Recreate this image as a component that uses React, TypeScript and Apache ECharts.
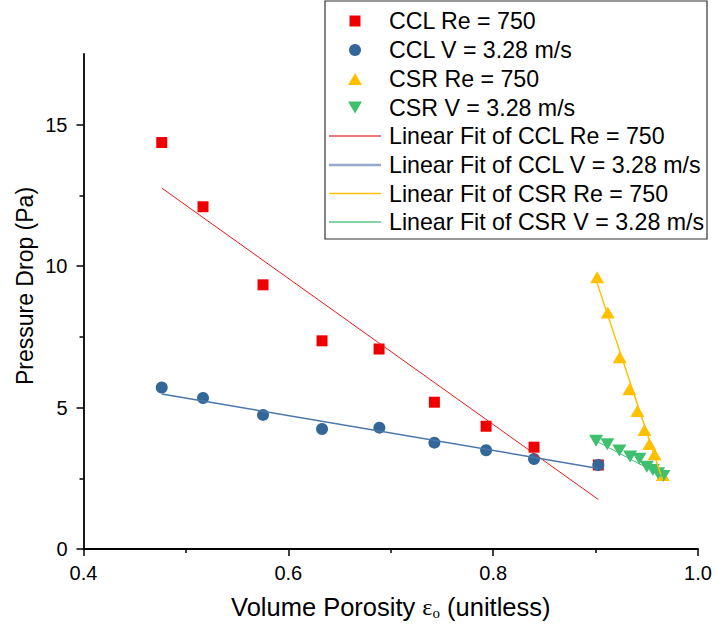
import React, { useEffect, useRef } from "react";
import * as echarts from "echarts";

// CCL Re = 750 (red squares)
const cclReX = [0.4764, 0.5167, 0.5753, 0.6329, 0.6886, 0.7426, 0.7931, 0.8399, 0.9027];
const cclReY = [14.37, 12.10, 9.34, 7.36, 7.07, 5.19, 4.34, 3.60, 2.97];
// CCL V = 3.28 m/s (blue circles)
const cclVX = [0.4764, 0.5167, 0.5753, 0.6329, 0.6889, 0.7426, 0.7931, 0.8399, 0.9027];
const cclVY = [5.71, 5.34, 4.74, 4.24, 4.29, 3.76, 3.49, 3.18, 2.97];
// CSR Re = 750 (yellow triangles)
const csrReX = [0.9015, 0.9119, 0.9236, 0.9330, 0.9408, 0.9477, 0.9525, 0.9576, 0.9656];
const csrReY = [9.61, 8.36, 6.78, 5.65, 4.88, 4.21, 3.71, 3.35, 2.62];
// CSR V = 3.28 m/s (green inverted triangles)
const csrVX = [0.9005, 0.9115, 0.9232, 0.9337, 0.9428, 0.9500, 0.9559, 0.9610, 0.9662];
const csrVY = [3.83, 3.70, 3.48, 3.27, 3.19, 2.91, 2.79, 2.68, 2.58];

// Linear fit end points
const fitCclReX = [0.4764, 0.9027];
const fitCclReY = [12.76, 1.75];
const fitCclVX = [0.4764, 0.9027];
const fitCclVY = [5.48, 2.85];
const fitCsrReX = [0.9015, 0.9656];
const fitCsrReY = [9.40, 2.42];
const fitCsrVX = [0.9005, 0.9662];
const fitCsrVY = [3.82, 2.56];

const legendNames = [
  "CCL Re = 750",
  "CCL V = 3.28 m/s",
  "CSR Re = 750",
  "CSR V = 3.28 m/s",
  "Linear Fit of CCL Re = 750",
  "Linear Fit of CCL V = 3.28 m/s",
  "Linear Fit of CSR Re = 750",
  "Linear Fit of CSR V = 3.28 m/s",
];

const zip = (xs: number[], ys: number[]) => xs.map((x, i) => [x, ys[i]]);

const FONT = "Arial, 'Liberation Sans', sans-serif";
const SERIF = "'Times New Roman', 'Liberation Serif', serif";
const RED = "#EE0000";
const BLUE = "#336699";
const YELLOW = "#FFC000";
const GREEN = "#3EC06E";
const INV_TRI = "path://M0,0 L14,0 L7,12 Z";

// plot geometry
const G_LEFT = 83.5;
const G_RIGHT = 18;
const G_TOP = 54;
const G_BOTTOM = 85;
const Y_MAX = 17.5;
const PX_PER_Y = (634 - G_TOP - G_BOTTOM) / Y_MAX;
const ZERO_Y = 634 - G_BOTTOM;

function buildLegend() {
  const left = 325;
  const top = 1;
  const rowY = [21, 50, 79, 107.5, 136, 165, 193.5, 222];
  const mx = 355;
  const children: any[] = [
    {
      type: "rect",
      shape: { x: left, y: top, width: 382, height: 238 },
      style: { fill: "#fff", stroke: "#333", lineWidth: 1.2 },
    },
  ];
  const lineStyles = [
    { stroke: "#E84848", lineWidth: 1.5 },
    { stroke: "#93AACB", lineWidth: 2.5 },
    { stroke: "#FFC000", lineWidth: 1.6 },
    { stroke: "#5CC585", lineWidth: 1.4 },
  ];
  legendNames.forEach((name, i) => {
    const y = rowY[i];
    if (i === 0) {
      children.push({ type: "rect", shape: { x: mx - 5.5, y: y - 5.5, width: 11, height: 11 }, style: { fill: RED } });
    } else if (i === 1) {
      children.push({ type: "circle", shape: { cx: mx, cy: y, r: 6 }, style: { fill: BLUE } });
    } else if (i === 2) {
      children.push({ type: "polygon", shape: { points: [[mx - 7, y + 6], [mx + 7, y + 6], [mx, y - 6]] }, style: { fill: YELLOW } });
    } else if (i === 3) {
      children.push({ type: "polygon", shape: { points: [[mx - 7, y - 6], [mx + 7, y - 6], [mx, y + 6]] }, style: { fill: GREEN } });
    } else {
      children.push({ type: "line", shape: { x1: 329, y1: y, x2: 381, y2: y }, style: lineStyles[i - 4] });
    }
    children.push({
      type: "text",
      x: 389,
      y: y,
      style: { text: name, fontSize: 23.2, fontFamily: FONT, fill: "#000", align: "left", verticalAlign: "middle" },
    });
  });
  return { type: "group", z: 100, children };
}

export default function App() {
  const ref = useRef<HTMLDivElement>(null);
  useEffect(() => {
    if (!ref.current) return;
    const chart = echarts.init(ref.current, null, { renderer: "svg" });
    const axisLineStyle = { color: "#000", width: 1.8 };
    const tickStyle = { color: "#000", width: 1.5 };
    chart.setOption({
      animation: false,
      backgroundColor: "#fff",
      textStyle: { fontFamily: FONT },
      grid: [
        // main plot
        { left: G_LEFT, right: G_RIGHT, top: G_TOP, bottom: G_BOTTOM, containLabel: false },
        // major y ticks 0..15
        { left: G_LEFT, right: G_RIGHT, top: ZERO_Y - 15 * PX_PER_Y, bottom: G_BOTTOM, containLabel: false },
        // minor y ticks 2.5..12.5
        { left: G_LEFT, right: G_RIGHT, top: ZERO_Y - 12.5 * PX_PER_Y, bottom: 634 - (ZERO_Y - 2.5 * PX_PER_Y), containLabel: false },
      ],
      xAxis: [
        {
          type: "value",
          gridIndex: 0,
          min: 0.4,
          max: 1.0,
          interval: 0.2,
          name: "Volume Porosity {e|ε}{s|o} (unitless)",
          nameLocation: "middle",
          nameGap: 45,
          nameTextStyle: {
            fontSize: 25.5,
            color: "#000",
            fontFamily: FONT,
            rich: {
              e: { fontSize: 24, fontFamily: SERIF, color: "#000" },
              s: { fontSize: 15, fontFamily: SERIF, color: "#000", verticalAlign: "bottom", lineHeight: 15 },
            },
          },
          axisLine: { show: true, onZero: false, lineStyle: axisLineStyle },
          axisTick: { show: true, length: 7, lineStyle: tickStyle },
          minorTick: { show: true, splitNumber: 2, length: 4, lineStyle: tickStyle },
          axisLabel: { fontSize: 20, color: "#000", margin: 14, formatter: (v: number) => v.toFixed(1) },
          splitLine: { show: false },
          minorSplitLine: { show: false },
        },
        { type: "value", gridIndex: 1, min: 0.4, max: 1.0, show: false },
        { type: "value", gridIndex: 2, min: 0.4, max: 1.0, show: false },
      ],
      yAxis: [
        {
          type: "value",
          gridIndex: 0,
          min: 0,
          max: Y_MAX,
          interval: 2.5,
          axisLine: { show: true, onZero: false, lineStyle: axisLineStyle },
          axisTick: { show: false },
          axisLabel: {
            fontSize: 20,
            color: "#000",
            margin: 16,
            formatter: (v: number) => (Math.abs(v % 5) < 1e-9 && v < 17 ? String(v) : ""),
          },
          splitLine: { show: false },
        },
        {
          type: "value",
          gridIndex: 1,
          min: 0,
          max: 15,
          interval: 5,
          axisLine: { show: false },
          axisTick: { show: true, length: 7, lineStyle: tickStyle },
          axisLabel: { show: false },
          splitLine: { show: false },
        },
        {
          type: "value",
          gridIndex: 2,
          min: 2.5,
          max: 12.5,
          interval: 5,
          axisLine: { show: false },
          axisTick: { show: true, length: 4, lineStyle: tickStyle },
          axisLabel: { show: false },
          splitLine: { show: false },
        },
      ],
      graphic: [
        {
          type: "text",
          x: 25,
          y: 286,
          rotation: Math.PI / 2,
          style: {
            text: "Pressure Drop (Pa)",
            fontSize: 23,
            fontFamily: FONT,
            fill: "#000",
            align: "center",
            verticalAlign: "middle",
          },
        },
        buildLegend(),
      ],
      series: [
        {
          name: legendNames[0],
          type: "scatter",
          symbol: "rect",
          symbolSize: 11,
          itemStyle: { color: RED, opacity: 1 },
          data: zip(cclReX, cclReY),
          z: 2,
        },
        {
          name: legendNames[1],
          type: "scatter",
          symbol: "circle",
          symbolSize: 12,
          itemStyle: { color: BLUE, opacity: 1 },
          data: zip(cclVX, cclVY),
          z: 2,
        },
        {
          name: legendNames[2],
          type: "scatter",
          symbol: "triangle",
          symbolSize: [14, 12],
          itemStyle: { color: YELLOW, opacity: 1 },
          data: zip(csrReX, csrReY),
          z: 2,
        },
        {
          name: legendNames[3],
          type: "scatter",
          symbol: INV_TRI,
          symbolSize: [14, 12],
          itemStyle: { color: GREEN, opacity: 1 },
          data: zip(csrVX, csrVY),
          z: 2,
        },
        {
          name: legendNames[4],
          type: "line",
          symbol: "none",
          lineStyle: { color: "#F01818", width: 1 },
          data: zip(fitCclReX, fitCclReY),
          z: 3,
        },
        {
          name: legendNames[5],
          type: "line",
          symbol: "none",
          lineStyle: { color: "#4A76A8", width: 1.5 },
          data: zip(fitCclVX, fitCclVY),
          z: 3,
        },
        {
          name: legendNames[6],
          type: "line",
          symbol: "none",
          lineStyle: { color: YELLOW, width: 1.5 },
          data: zip(fitCsrReX, fitCsrReY),
          z: 3,
        },
        {
          name: legendNames[7],
          type: "line",
          symbol: "none",
          lineStyle: { color: "#40C070", width: 1 },
          data: zip(fitCsrVX, fitCsrVY),
          z: 3,
        },
      ],
    });
    return () => chart.dispose();
  }, []);
  return (
    <div
      ref={ref}
      style={{ position: "fixed", left: 0, top: 0, width: 716, height: 634, background: "#fff" }}
    />
  );
}
